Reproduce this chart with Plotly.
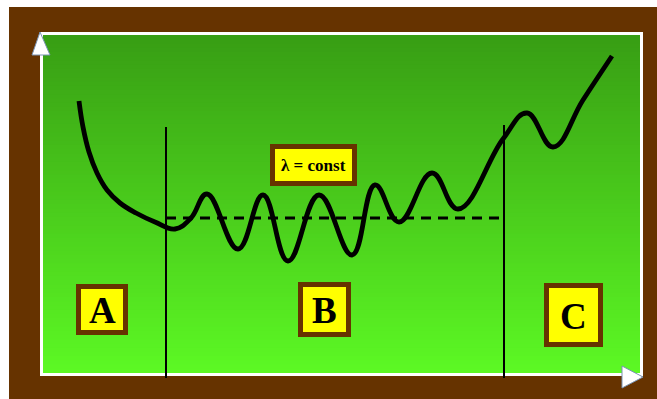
import plotly.graph_objects as go

# ---- data (in chart units) ----
curve_x = [79, 83, 89, 97, 107, 120, 136, 155, 175, 191, 207, 238, 263, 288, 319, 352, 375, 399, 432, 458, 503, 527, 553, 583, 612]
curve_y = [101, 127, 152, 173, 190, 203, 213, 222, 229, 218, 194, 249, 195, 261, 195, 255, 185, 222, 173, 209, 139, 113, 147, 100, 56]
const_level = 218
zone_bounds = [166, 504]
zone_tops = [127, 125]
zone_bottom = 378
zone_labels = ["A", "B", "C"]
zone_label_boxes = [(76, 284, 128, 335), (298, 282, 351, 337), (544, 283, 603, 347)]
const_label = "λ = const"
const_box = (270, 144, 357, 186)

W, H = 657, 399
BROWN = "#663300"
YELLOW = "#ffff00"

fig = go.Figure()
shapes = []

# brown frame
shapes.append(dict(type="rect", x0=9, y0=7, x1=657, y1=399, fillcolor=BROWN, line_width=0, layer="below"))
# white border
shapes.append(dict(type="rect", x0=40, y0=32, x1=643, y1=376, fillcolor="white", line_width=0, layer="below"))
# gradient green
top = (56, 158, 20)
bot = (92, 248, 36)
gx0, gy0, gx1, gy1 = 43, 35, 640, 373
n = 80
for i in range(n):
    t = i / (n - 1)
    c = tuple(int(round(top[k] + (bot[k] - top[k]) * t)) for k in range(3))
    ya = gy0 + (gy1 - gy0) * i / n
    yb = gy0 + (gy1 - gy0) * (i + 1) / n + 1.5
    shapes.append(dict(type="rect", x0=gx0, x1=gx1, y0=ya, y1=min(yb, gy1),
                       fillcolor="rgb(%d,%d,%d)" % c, line_width=0, layer="below"))

# label boxes
for (x0, y0, x1, y1) in zone_label_boxes + [const_box]:
    shapes.append(dict(type="rect", x0=x0, y0=y0, x1=x1, y1=y1, fillcolor=BROWN, line_width=0, layer="below"))
    shapes.append(dict(type="rect", x0=x0 + 5, y0=y0 + 5, x1=x1 - 5, y1=y1 - 5, fillcolor=YELLOW, line_width=0, layer="below"))

# arrow heads
shapes.append(dict(type="path", path="M 40 32 L 50 55 L 32 55 Z", fillcolor="white",
                   line=dict(color="#7a94b4", width=1), layer="above"))
shapes.append(dict(type="path", path="M 643 377 L 622 366 L 622 388 Z", fillcolor="white",
                   line=dict(color="#7a94b4", width=1), layer="above"))

# zone boundary lines
for xb, yt in zip(zone_bounds, zone_tops):
    fig.add_trace(go.Scatter(x=[xb, xb], y=[yt, zone_bottom], mode="lines",
                             line=dict(color="black", width=2), hoverinfo="skip"))

# constant-rate dashed line
fig.add_trace(go.Scatter(x=[zone_bounds[0], zone_bounds[1]], y=[const_level, const_level], mode="lines",
                         line=dict(color="black", width=3, dash="10px,7px"), hoverinfo="skip"))

# failure-rate curve
fig.add_trace(go.Scatter(x=curve_x, y=curve_y, mode="lines",
                         line=dict(color="black", width=4.8, shape="spline", smoothing=1.2),
                         hoverinfo="skip"))

annotations = []
for lab, (x0, y0, x1, y1) in zip(zone_labels, zone_label_boxes):
    annotations.append(dict(x=(x0 + x1) / 2, y=(y0 + y1) / 2 + 1, text="<b>%s</b>" % lab, showarrow=False,
                            font=dict(family="Liberation Serif", size=37, color="black"),
                            xanchor="center", yanchor="middle"))
x0, y0, x1, y1 = const_box
annotations.append(dict(x=(x0 + x1) / 2, y=(y0 + y1) / 2, text="<b>%s</b>" % const_label, showarrow=False,
                        font=dict(family="Liberation Serif", size=17, color="black"),
                        xanchor="center", yanchor="middle"))

fig.update_layout(
    width=W, height=H, margin=dict(l=0, r=0, t=0, b=0),
    paper_bgcolor="white", plot_bgcolor="white", showlegend=False,
    xaxis=dict(range=[0, W], visible=False, fixedrange=True),
    yaxis=dict(range=[H, 0], visible=False, fixedrange=True),
    shapes=shapes, annotations=annotations,
)
fig.write_html("out.html", config={"displayModeBar": False},
               post_script="document.body.style.margin='0';document.body.style.overflow='hidden';")
